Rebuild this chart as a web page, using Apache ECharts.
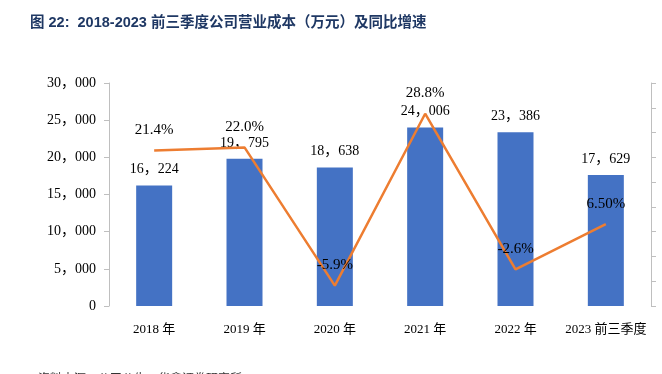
<!DOCTYPE html>
<html>
<head>
<meta charset="utf-8">
<script src="https://cdn.jsdelivr.net/npm/echarts@6/dist/echarts.min.js"></script>
<style>
html,body{margin:0;padding:0;background:#fff;}
#c{width:662px;height:374px;}
</style>
</head>
<body>
<div id="c"></div>
<script>
var categories = ['2018 年', '2019 年', '2020 年', '2021 年', '2022 年', '2023 前三季度'];
var costValues = [16224, 19795, 18638, 24006, 23386, 17629];
var growthValues = [21.4, 22.0, -5.9, 28.8, -2.6, 6.5];
var growthLabels = ['21.4%', '22.0%', '-5.9%', '28.8%', '-2.6%', '6.50%'];
var leftTicks = { min: 0, max: 30000, interval: 5000 };
var rightTicks = { min: -10, max: 35, interval: 5 };

function fmt(n) {
  var s = String(Math.round(n));
  return s.replace(/\B(?=(\d{3})+(?!\d))/g, '\uFF0C');
}

var serif = "'Liberation Serif', 'Noto Sans CJK SC', serif";
var chart = echarts.init(document.getElementById('c'), null, { renderer: 'canvas' });
chart.setOption({
  animation: false,
  backgroundColor: '#ffffff',
  title: {
    text: '图 22:  2018-2023 前三季度公司营业成本（万元）及同比增速',
    left: 25, top: 11,
    textStyle: { fontSize: 14.5, fontWeight: 'bold', color: '#1F3864', fontFamily: "'Liberation Sans', 'Noto Sans CJK SC', sans-serif" }
  },
  graphic: [{
    type: 'text', left: 38, top: 372,
    style: { text: '资料来源：公司公告，华鑫证券研究所', fontSize: 12, fill: '#333', fontFamily: "'Noto Sans CJK SC', sans-serif" }
  }],
  grid: { left: 109, right: 11, top: 83, bottom: 68 },
  xAxis: {
    type: 'category',
    data: categories,
    axisLine: { show: false },
    axisTick: { show: false },
    axisLabel: { interval: 0, margin: 17, fontSize: 13, color: '#000', fontFamily: serif }
  },
  yAxis: [{
    type: 'value',
    min: leftTicks.min, max: leftTicks.max, interval: leftTicks.interval,
    position: 'left',
    splitLine: { show: false },
    axisLine: { show: true, lineStyle: { color: '#bfbfbf', width: 1 } },
    axisTick: { show: true, length: 5, lineStyle: { color: '#bfbfbf' } },
    axisLabel: { margin: 13, fontSize: 14, color: '#000', fontFamily: serif, formatter: function (v) { return fmt(v); } }
  }, {
    type: 'value',
    min: rightTicks.min, max: rightTicks.max, interval: rightTicks.interval,
    position: 'right',
    splitLine: { show: false },
    axisLine: { show: true, lineStyle: { color: '#bfbfbf', width: 1 } },
    axisTick: { show: true, length: 5, lineStyle: { color: '#bfbfbf' } },
    axisLabel: { show: false }
  }],
  series: [{
    type: 'bar',
    data: costValues,
    barWidth: 36,
    itemStyle: { color: '#4472C4' },
    label: {
      show: true, position: 'top', distance: 9,
      fontSize: 14, color: '#000', fontFamily: serif,
      formatter: function (p) { return fmt(p.value); }
    },
    z: 2
  }, {
    type: 'line',
    yAxisIndex: 1,
    data: growthValues,
    symbol: 'circle',
    symbolSize: 0,
    showSymbol: true,
    lineStyle: { color: '#ED7D31', width: 2.5 },
    itemStyle: { color: '#ED7D31' },
    label: {
      show: true, position: 'top', distance: 13,
      fontSize: 15, color: '#000', fontFamily: serif,
      formatter: function (p) { return growthLabels[p.dataIndex]; }
    },
    z: 3
  }]
});
</script>
</body>
</html>
